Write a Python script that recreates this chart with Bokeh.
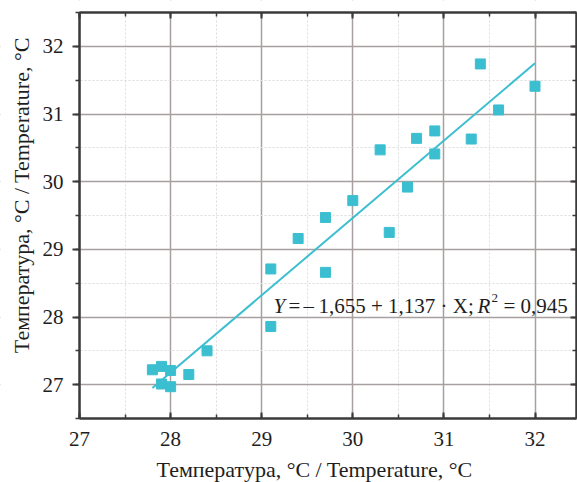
import math
from bokeh.plotting import figure
from bokeh.models import LinearAxis, Label, Range1d, SingleIntervalTicker, BoxAnnotation
from bokeh.embed import file_html
from bokeh.resources import INLINE

# Data
temp_x = [27.8, 27.9, 28.0, 27.9, 28.0, 28.2, 28.4, 29.1, 29.1, 29.4, 29.7, 29.7,
          30.0, 30.3, 30.4, 30.6, 30.7, 30.9, 30.9, 31.3, 31.4, 31.6, 32.0]
temp_y = [27.22, 27.27, 27.21, 27.01, 26.97, 27.15, 27.50, 28.71, 27.86, 29.16, 29.47, 28.66,
          29.72, 30.47, 29.25, 29.92, 30.64, 30.75, 30.41, 30.63, 31.74, 31.06, 31.41]
fit_x = [27.8, 32.0]
fit_y = [26.95, 31.75]
x_ticks = [27, 28, 29, 30, 31, 32]
y_ticks = [27, 28, 29, 30, 31, 32]
axis_title = "Температура, °C / Temperature, °C"

FONT = "Liberation Serif"
AX = "#3a3a3a"
CYAN = "#3BBFD0"
TXT = "#1e1e1e"

# visible plot area (data units) and pixel layout
X0, X1, Y0, Y1 = 27, 32.455, 26.5, 32.5
W, H = 577, 482
LEFT_PX, TOP_PX, BOTTOM_PX = 79, 12, 418
xs = 91.1                                   # px per unit along x
ys = (BOTTOM_PX - TOP_PX) / (Y1 - Y0)       # px per unit along y
xr = Range1d(X0 - LEFT_PX / xs, X0 + (W - LEFT_PX) / xs)
yr = Range1d(Y0 - (H - BOTTOM_PX) / ys, Y1 + TOP_PX / ys)

p = figure(width=W, height=H, output_backend="svg", toolbar_location=None,
           x_range=xr, y_range=yr, x_axis_location=None, y_axis_location=None,
           min_border=0, min_border_left=0, min_border_right=0,
           min_border_top=0, min_border_bottom=0)
p.outline_line_color = None
p.background_fill_color = "white"
p.border_fill_color = "white"

p.xgrid.ticker = SingleIntervalTicker(interval=1, num_minor_ticks=2)
p.ygrid.ticker = SingleIntervalTicker(interval=1, num_minor_ticks=2)
p.grid.grid_line_color = "#a89f9f"
p.grid.grid_line_width = 1.5
p.grid.minor_grid_line_color = "#dcdcdc"
p.grid.minor_grid_line_dash = "2 2"
p.grid.minor_grid_line_width = 1

# white covers outside the plot area (hide grid lines there)
for kw in (dict(right=X0), dict(left=X1), dict(top=Y0), dict(bottom=Y1)):
    p.add_layout(BoxAnnotation(fill_color="white", fill_alpha=1, line_color=None,
                               level="underlay", **kw))

def make_axis(loc, bounds, tin, tout, mtin, mtout):
    a = LinearAxis(ticker=SingleIntervalTicker(interval=1, num_minor_ticks=2),
                   fixed_location=loc, bounds=bounds)
    a.axis_line_color = AX
    a.axis_line_width = 2.5
    a.major_tick_line_color = AX
    a.minor_tick_line_color = AX
    a.major_tick_line_width = 2
    a.minor_tick_line_width = 1.5
    a.major_tick_in = tin
    a.major_tick_out = tout
    a.minor_tick_in = mtin
    a.minor_tick_out = mtout
    a.major_label_text_font_size = "1px"
    a.major_label_text_color = None
    a.major_label_standoff = 0
    return a

p.add_layout(make_axis(Y0, (X0, X1), 6, 0, 4, 0), "below")
p.add_layout(make_axis(Y1, (X0, X1), 6, 0, 4, 0), "above")
p.add_layout(make_axis(X0, (Y0, Y1), 0, 7, 0, 4), "left")
p.add_layout(make_axis(X1, (Y0, Y1), 6, 0, 4, 0), "right")

p.line(fit_x, fit_y, line_color=CYAN, line_width=2)
p.scatter(temp_x, temp_y, marker="square", size=10, fill_color=CYAN, line_color=CYAN)

def lab(x, y, t, style="normal", size="21px", xoff=0, yoff=0, align="left",
        baseline="alphabetic", angle=0):
    p.add_layout(Label(x=x, y=y, text=t, text_font=FONT, text_font_size=size,
                       text_font_style=style, text_color=TXT, angle=angle,
                       text_align=align, text_baseline=baseline,
                       x_offset=xoff, y_offset=yoff))

# tick labels
for t in x_ticks:
    lab(t, Y0, str(t), yoff=-20, align="center", baseline="middle")
for t in y_ticks:
    lab(X0, t, str(t), xoff=-16, align="right", baseline="middle")

# axis titles
lab(29.58, Y0, axis_title, size="22px", yoff=-51, align="center", baseline="middle")
lab(X0, 29.80, axis_title, size="22px", xoff=-58, align="center", baseline="middle",
    angle=math.pi / 2)

# regression annotation
ey = 28.165
lab(29.130, ey, "Y", "italic")
lab(29.294, ey, "=")
lab(29.459, ey, "–")
lab(29.623, ey, "1,655 + 1,137 · X;")
lab(31.369, ey, "R", "italic")
lab(31.523, ey, "2", size="13px", yoff=8)
lab(31.654, ey, "=")
lab(31.841, ey, "0,945")

open("out.html", "w").write(file_html(p, INLINE))
